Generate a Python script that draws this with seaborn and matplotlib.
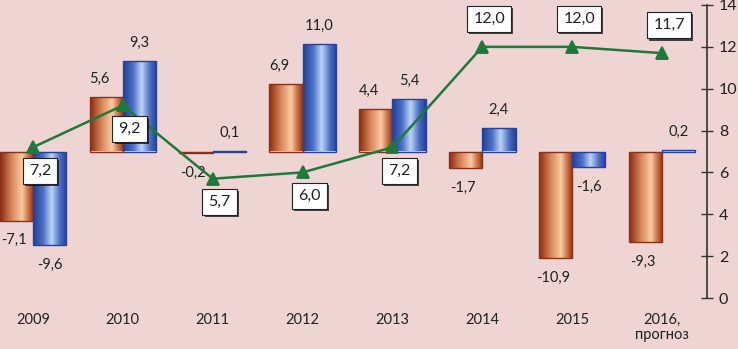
import numpy as np
import pandas as pd
import matplotlib
matplotlib.use("Agg")
import matplotlib.pyplot as plt
import matplotlib.patheffects as pe
from matplotlib.colors import LinearSegmentedColormap
import seaborn as sns

years = ["2009", "2010", "2011", "2012", "2013", "2014", "2015", "2016,\nпрогноз"]
orange_vals = [-7.1, 5.6, -0.2, 6.9, 4.4, -1.7, -10.9, -9.3]
blue_vals = [-9.6, 9.3, 0.1, 11.0, 5.4, 2.4, -1.6, 0.2]
line_vals = [7.2, 9.2, 5.7, 6.0, 7.2, 12.0, 12.0, 11.7]
right_ticks = [0, 2, 4, 6, 8, 10, 12, 14]

BG = "#EFD4D4"
sns.set_theme(style="white")
plt.rcParams["font.family"] = ["Lato", "DejaVu Sans"]

df = pd.DataFrame({
    "year": years * 2,
    "value": orange_vals + blue_vals,
    "series": ["o"] * len(years) + ["b"] * len(years),
})

fig = plt.figure(figsize=(7.38, 3.49), dpi=100, facecolor=BG)
ax = fig.add_axes([-12 / 738, 51 / 349, 719 / 738, 293 / 349])
ax.set_facecolor(BG)

sns.barplot(data=df, x="year", y="value", hue="series", order=years,
            hue_order=["o", "b"], palette=["#D07A50", "#4A6CC0"],
            width=0.74, saturation=1, legend=False, ax=ax, zorder=2)

cmaps = [
    LinearSegmentedColormap.from_list("o", [(0, "#8A2A10"), (0.35, "#D9875A"),
                                            (0.65, "#F8CBA2"), (0.85, "#C86A40"),
                                            (1, "#8E3016")]),
    LinearSegmentedColormap.from_list("b", [(0, "#213F94"), (0.3, "#4A70C8"),
                                            (0.55, "#BCD4F6"), (0.8, "#4A6CC4"),
                                            (1, "#243F92")]),
]
edges = ["#8A3218", "#26429A"]
grad = np.linspace(0, 1, 256).reshape(1, -1)
for cont, cmap, ec in zip(ax.containers, cmaps, edges):
    for p in cont.patches:
        x, y = p.get_x(), p.get_y()
        w, h = p.get_width(), p.get_height()
        p.set_facecolor("none")
        p.set_edgecolor(ec)
        p.set_linewidth(1.0)
        im = ax.imshow(grad, cmap=cmap, aspect="auto",
                       extent=[x, x + w, min(y, y + h), max(y, y + h)],
                       zorder=1.9, interpolation="bilinear")
        im.set_clip_path(p)

def fmt(v):
    return f"{v:.1f}".replace(".", ",")

for k, (cont, vals) in enumerate(zip(ax.containers, [orange_vals, blue_vals])):
    for p, v in zip(cont.patches, vals):
        cx = p.get_x() + p.get_width() / 2
        off = 13 if v >= 0 else -14
        dx = 0 if k == 1 else (-5 if v >= 0 else -2)
        ax.annotate(fmt(v), (cx, v), xytext=(dx, off), textcoords="offset points",
                    ha="center", va="center", fontsize=10.5, color="#202020", zorder=5)

ax.set_ylim(-15, 15)
ax.set_xlim(-0.5, len(years) - 0.5)
ax.set_yticks([])
ax.set_xlabel("")
ax.set_ylabel("")
for s in ax.spines.values():
    s.set_visible(False)
ax.tick_params(axis="x", length=0, pad=11, labelsize=10.5, labelcolor="#202020")
ax.set_xticks(range(len(years)))
ax.set_xticklabels(years, va="top", linespacing=1.1)

ax2 = ax.twinx()
ax2.patch.set_visible(False)
sns.pointplot(x=years, y=line_vals, order=years, color="#1E7A3A", markers="^",
              markersize=8, linewidth=1.8, ax=ax2, zorder=4)
ax2.set_ylim(0, 14)
ax2.set_xlim(-0.5, len(years) - 0.5)
ax2.set_yticks(right_ticks)
ax2.set_yticklabels([str(t) for t in right_ticks])
ax2.yaxis.tick_right()
ax2.tick_params(axis="y", direction="inout", length=9, width=1, color="#333333",
                pad=4, labelsize=11.5, labelcolor="#202020")
for name, s in ax2.spines.items():
    s.set_visible(name == "right")
ax2.spines["right"].set_color("#333333")
ax2.spines["right"].set_linewidth(1.2)
ax2.set_ylabel("")

for i, v in enumerate(line_vals):
    off = 20 if v > 10 else -17
    t = ax2.annotate(fmt(v), (i, v), xytext=(5, off), textcoords="offset points",
                     ha="center", va="center", fontsize=11.5, color="#202020", zorder=6,
                     bbox=dict(boxstyle="square,pad=0.38", fc="white", ec="#222222", lw=0.8))
    t.get_bbox_patch().set_path_effects([
        pe.SimplePatchShadow(offset=(1.5, -1.5), shadow_rgbFace="black", alpha=0.7),
        pe.Normal()])

fig.savefig("out.png", dpi=100, facecolor=BG)
